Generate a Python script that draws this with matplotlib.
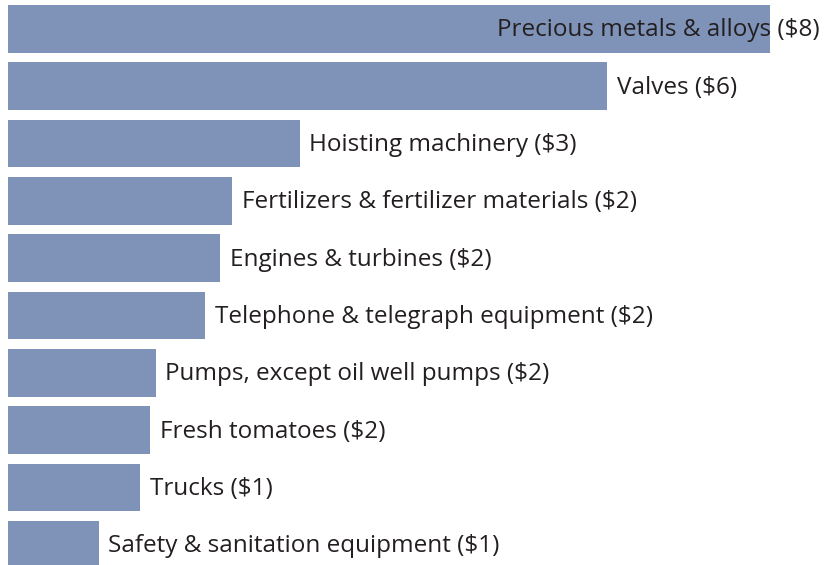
import matplotlib
matplotlib.use("Agg")
import matplotlib.pyplot as plt

# import categories and approximate values (billions of dollars)
categories = [
    "Precious metals & alloys",
    "Valves",
    "Hoisting machinery",
    "Fertilizers & fertilizer materials",
    "Engines & turbines",
    "Telephone & telegraph equipment",
    "Pumps, except oil well pumps",
    "Fresh tomatoes",
    "Trucks",
    "Safety & sanitation equipment",
]
values = [8.15, 6.41, 3.12, 2.40, 2.27, 2.11, 1.58, 1.52, 1.41, 0.97]

bar_color = "#7f92b8"
text_color = "#231f20"

plt.rcParams["font.family"] = ["Open Sans", "DejaVu Sans"]

fig = plt.figure(figsize=(8.24, 5.65), dpi=100)
ax = fig.add_axes([8 / 824, 0, 816 / 824, 1])

pos = list(range(len(categories)))
ax.barh(pos, values, height=0.83, color=bar_color)

ax.set_xlim(0, 816 / 93.5)
ax.set_ylim(9.352, -0.503)
ax.axis("off")

xmax = ax.get_xlim()[1]
for i, (name, v) in enumerate(zip(categories, values)):
    label = f"{name} (${round(v)})"
    t = ax.annotate(label, (v, i), xytext=(7, -1), textcoords="offset points",
                    ha="left", va="center", fontsize=17.5, color=text_color)
    # keep the label inside the chart when the bar is too long
    fig.canvas.draw()
    bb = t.get_window_extent()
    if bb.x1 > fig.bbox.width - 3:
        t.xy = (xmax, i)
        t.xyann = (-3, -1)
        t.set_ha("right")

fig.savefig("out.png", dpi=100)
